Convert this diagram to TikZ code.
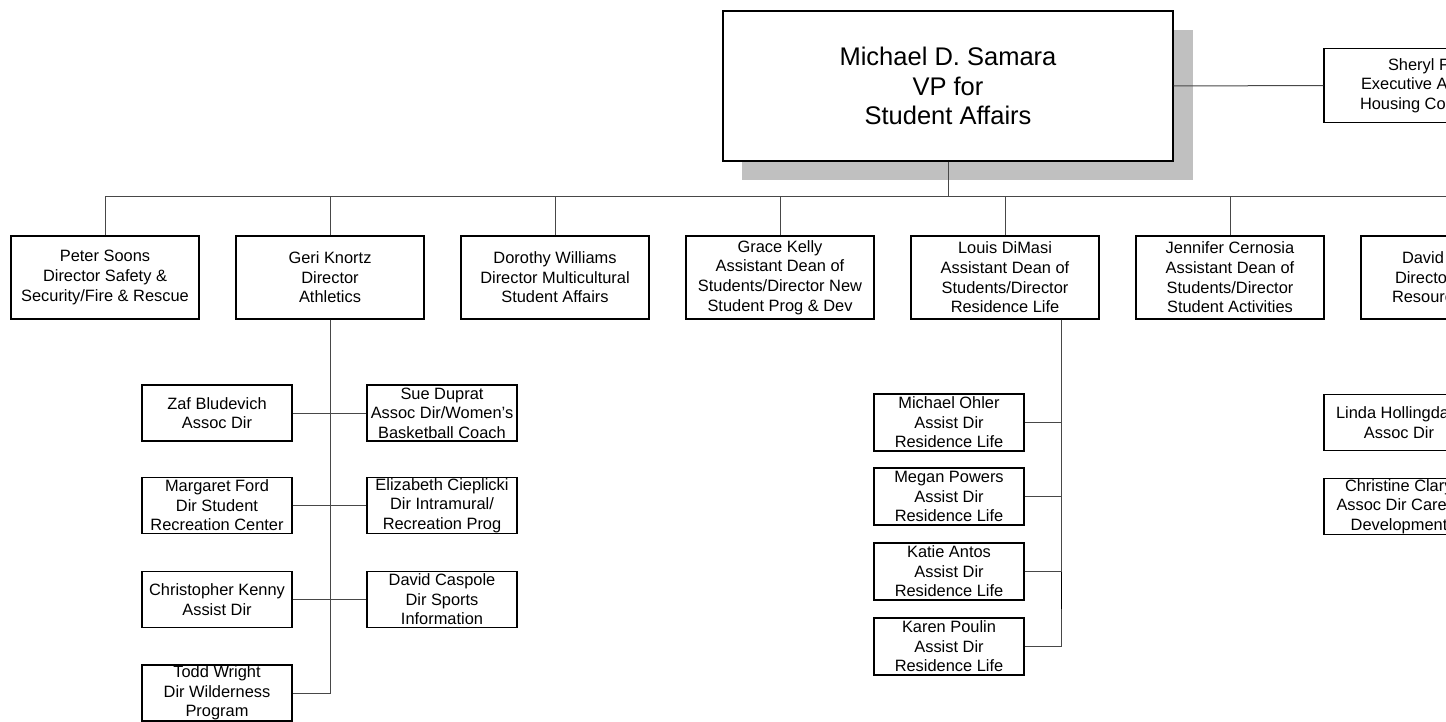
\documentclass[tikz,border=0pt]{standalone}
\usepackage{fontspec}
\setmainfont{Liberation Sans}
\definecolor{linegray}{RGB}{72,72,72}
\definecolor{shadowgray}{RGB}{192,192,192}
% a line of text that runs past the page edge: fixed width, set flush left
\newcommand{\cutline}[2]{\makebox[#1][l]{#2}}

\begin{document}
\begin{tikzpicture}[x=1pt,y=-1pt,
  smallfont/.style={font=\fontsize{16.4}{19.6}\selectfont},
  orgbox/.style={draw=black, line width=1.2pt, fill=white, inner sep=0pt,
                 align=center, smallfont},
  dirbox/.style={orgbox, minimum width=188pt, minimum height=83pt},
  subbox/.style={orgbox, minimum width=150pt, minimum height=56pt},
  link/.style={draw=linegray, line width=1pt}]

\useasboundingbox (0,0) rectangle (1446,722);
\clip (0,0) rectangle (1446,722);

% vice president with drop shadow
\fill[shadowgray] (742,30) rectangle (1193,180);
\node[orgbox, minimum width=450pt, minimum height=150pt,
      font=\fontsize{25.5}{29.5}\selectfont] (vp) at (948,86)
  {Michael D. Samara\\VP for\\Student Affairs};

\node[orgbox, minimum width=218pt, minimum height=74pt] (sheryl) at (1433,85.5)
  {\cutline{90pt}{Sheryl F}\\\cutline{144pt}{Executive A}\\\cutline{146pt}{Housing Co}};

% directors
\node[dirbox] (peter)    at (105,277.5)  {Peter Soons\\Director Safety \&\\Security/Fire \& Rescue};
\node[dirbox] (geri)     at (330,277.5)  {Geri Knortz\\Director\\Athletics};
\node[dirbox] (dorothy)  at (555,277.5)  {Dorothy Williams\\Director Multicultural\\Student Affairs};
\node[dirbox] (grace)    at (780,277.5)  {Grace Kelly\\Assistant Dean of\\Students/Director New\\Student Prog \& Dev};
\node[dirbox] (louis)    at (1005,277.5) {Louis DiMasi\\Assistant Dean of\\Students/Director\\Residence Life};
\node[dirbox] (jennifer) at (1230,277.5) {Jennifer Cernosia\\Assistant Dean of\\Students/Director\\Student Activities};
\node[dirbox] (david)    at (1455,277.5) {\cutline{106pt}{David}\\\cutline{120pt}{Directo}\\\cutline{126pt}{Resourc}};

% athletics staff
\node[subbox] (zaf)       at (217,413)   {Zaf Bludevich\\Assoc Dir};
\node[subbox] (sue)       at (442,413)   {Sue Duprat\\Assoc Dir/Women's\\Basketball Coach};
\node[subbox] (margaret)  at (217,505.5) {Margaret Ford\\Dir Student\\Recreation Center};
\node[subbox] (elizabeth) at (442,505.5) {Elizabeth Cieplicki\\Dir Intramural/\\Recreation Prog};
\node[subbox] (kenny)     at (217,599.5) {Christopher Kenny\\Assist Dir};
\node[subbox] (caspole)   at (442,599.5) {David Caspole\\Dir Sports\\Information};
\node[subbox] (todd)      at (217,693)   {Todd Wright\\Dir Wilderness\\Program};

% residence life staff
\node[subbox, minimum height=57pt] (ohler)  at (949,422.5) {Michael Ohler\\Assist Dir\\Residence Life};
\node[subbox, minimum height=57pt] (powers) at (949,496.5) {Megan Powers\\Assist Dir\\Residence Life};
\node[subbox, minimum height=57pt] (antos)  at (949,571.5) {Katie Antos\\Assist Dir\\Residence Life};
\node[subbox, minimum height=57pt] (poulin) at (949,646.5) {Karen Poulin\\Assist Dir\\Residence Life};

% staff under the right-hand director
\node[subbox] (linda)     at (1399,422.5) {\cutline{126pt}{Linda Hollingda}\\Assoc Dir};
\node[subbox] (christine) at (1399,506.5) {\cutline{108pt}{Christine Clary}\\\cutline{125pt}{Assoc Dir Care}\\Development};

% connectors
\coordinate (busL) at (105,197);
\coordinate (busR) at (david.north |- busL);
\draw[link] (vp.east) -- (sheryl.west);
\draw[link] (vp.south) -- (vp.south |- busL);
\draw[link] (peter.north |- busL) -- (busR);
\foreach \d in {peter,geri,dorothy,grace,louis,jennifer,david}
  \draw[link] (\d.north) -- (\d.north |- busL);

\draw[link] (geri.south) -- (geri.south |- todd.east) -- (todd.east);
\draw[link] (zaf.east) -- (sue.west);
\draw[link] (margaret.east) -- (elizabeth.west);
\draw[link] (kenny.east) -- (caspole.west);

\coordinate (rl) at ([xshift=56pt]louis.south);
\draw[link] (rl) -- (rl |- poulin.east) -- (poulin.east);
\draw[link] (ohler.east)  -- (ohler.east -| rl);
\draw[link] (powers.east) -- (powers.east -| rl);
\draw[link] (antos.east)  -- (antos.east -| rl);
\draw[draw=black, line width=1pt] ([xshift=0.8pt]antos.east -| rl) -- ++(0,37.5);
\end{tikzpicture}
\end{document}
